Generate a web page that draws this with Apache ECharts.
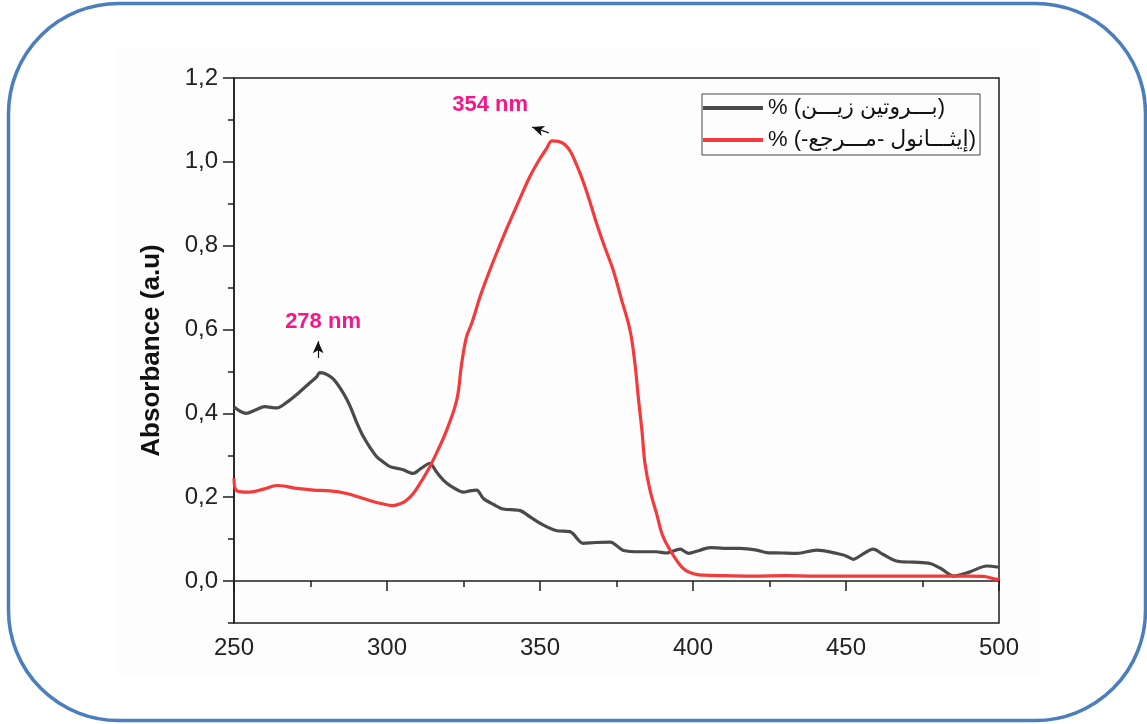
<!DOCTYPE html>
<html>
<head>
<meta charset="utf-8">
<script src="https://cdn.jsdelivr.net/npm/echarts@6/dist/echarts.min.js"></script>
<style>
  html, body { margin: 0; padding: 0; background: #ffffff; }
  #chart { width: 1147px; height: 724px; }
</style>
</head>
<body>
<div id="chart"></div>
<script>
// Zein protein spectrum (wavelength in nm, absorbance in a.u.)
const zeinWl  = [250, 252, 254, 257, 260, 264, 267, 270.5, 274.8, 277, 278, 280, 282, 283.6, 286, 288, 290, 292.3, 294.5, 296.6, 299, 301, 305, 308.6, 311, 314, 316, 318.4, 321, 325, 327, 329.3, 331.5, 335, 338, 343.5, 347, 350, 355.5, 359.8, 364.1, 368, 373, 377.3, 383, 388, 391.3, 395.8, 398.5, 402, 405.6, 410, 415.4, 420.8, 424.1, 429, 433.9, 440.4, 443, 446.9, 450, 452.4, 455, 458.9, 462, 466.5, 472, 477.5, 481, 485.1, 490.5, 496, 500];
const zeinAbs = [0.415, 0.405, 0.400, 0.408, 0.416, 0.413, 0.425, 0.445, 0.473, 0.487, 0.497, 0.494, 0.485, 0.472, 0.445, 0.416, 0.380, 0.344, 0.318, 0.297, 0.283, 0.273, 0.266, 0.257, 0.268, 0.281, 0.262, 0.241, 0.226, 0.212, 0.215, 0.217, 0.197, 0.182, 0.172, 0.168, 0.152, 0.138, 0.120, 0.118, 0.090, 0.092, 0.093, 0.073, 0.070, 0.070, 0.067, 0.076, 0.066, 0.073, 0.080, 0.078, 0.078, 0.074, 0.068, 0.067, 0.066, 0.074, 0.072, 0.066, 0.060, 0.052, 0.062, 0.076, 0.064, 0.048, 0.045, 0.042, 0.030, 0.012, 0.022, 0.036, 0.033];

// Ethanol reference spectrum
const ethWl  = [250, 251, 255, 260, 264, 267, 270.5, 276, 281.4, 286.8, 291, 294.4, 298, 302, 304.5, 306.4, 308.6, 310.8, 314, 317, 319.5, 322.8, 324.4, 326, 327.7, 330.4, 333, 335.8, 338.5, 341.3, 344, 346.7, 349.5, 352, 354, 356, 358, 360, 362, 364.1, 366.3, 368.5, 371, 373.9, 376.5, 379.4, 381, 382.1, 383.3, 384.3, 386, 388.1, 390, 392.5, 395.8, 398, 401, 403.4, 410, 420, 430, 440, 450, 460, 470, 480, 490, 495, 498, 500];
const ethAbs = [0.245, 0.215, 0.212, 0.220, 0.228, 0.226, 0.221, 0.217, 0.215, 0.209, 0.200, 0.192, 0.185, 0.180, 0.185, 0.193, 0.209, 0.233, 0.273, 0.318, 0.360, 0.432, 0.519, 0.583, 0.615, 0.678, 0.730, 0.782, 0.830, 0.877, 0.922, 0.965, 1.002, 1.030, 1.050, 1.049, 1.042, 1.024, 0.992, 0.953, 0.905, 0.853, 0.800, 0.742, 0.675, 0.599, 0.520, 0.440, 0.360, 0.281, 0.215, 0.161, 0.110, 0.074, 0.038, 0.024, 0.016, 0.014, 0.013, 0.012, 0.013, 0.012, 0.012, 0.012, 0.012, 0.012, 0.012, 0.011, 0.006, 0.004];

const seriesNames = ['% (بـــروتين زيـــن)', '% (-إيثـــانول -مـــرجع)'];

// Peak annotations: wavelength, label anchor, arrow tail, arrow head
const peakWl     = [278, 354];
const labelPos   = [[279.1, 0.618], [333.7, 1.136]];
const arrowTail  = [[277.5, 0.532], [352.9, 1.069]];
const arrowHead  = [[277.5, 0.572], [347.4, 1.083]];

// Axis ticks
const xTicks = [250, 300, 350, 400, 450, 500];
const yMajor = [0, 0.2, 0.4, 0.6, 0.8, 1.0, 1.2];
const yMinor = [-0.1, 0.1, 0.3, 0.5, 0.7, 0.9, 1.1];

const zip = (a, b) => a.map((v, i) => [v, b[i]]);

const FONT = '"Liberation Sans", Arial, "DejaVu Sans", sans-serif';
const AXIS_COLOR = '#1e1e1e';
const PEAK_COLOR = '#f5168a';

const chart = echarts.init(document.getElementById('chart'), null, { renderer: 'canvas' });

const peakLabel = i => ({
  symbol: 'circle',
  symbolSize: 0,
  silent: true,
  data: [{ coord: labelPos[i], value: peakWl[i] + ' nm' }],
  label: {
    show: true, formatter: p => p.value, position: 'inside',
    fontFamily: FONT, fontSize: 22, fontWeight: 'bold', color: PEAK_COLOR
  }
});
const peakArrow = i => ({
  silent: true,
  symbol: ['none', 'arrow'],
  symbolSize: [8, 12],
  label: { show: false },
  lineStyle: { color: '#111', width: 1.2, type: 'solid' },
  data: [[{ coord: arrowTail[i] }, { coord: arrowHead[i] }]]
});

chart.setOption({
  backgroundColor: '#ffffff',
  animation: false,
  graphic: [
    {
      type: 'rect',
      z: -10,
      silent: true,
      shape: { x: 117, y: 49, width: 923, height: 626 },
      style: { fill: '#fdfdfd' }
    },
    {
      type: 'rect',
      z: 100,
      silent: true,
      shape: { x: 8.5, y: 3.5, width: 1137, height: 717, r: 110 },
      style: { fill: 'none', stroke: '#4a7ebd', lineWidth: 3.5 }
    }
  ],
  grid: {
    left: 234, right: 148, top: 78, bottom: 101,
    show: true, borderColor: AXIS_COLOR, borderWidth: 1.5, backgroundColor: 'transparent'
  },
  legend: {
    orient: 'vertical',
    left: 702,
    top: 94,
    icon: 'rect',
    itemWidth: 60,
    itemHeight: 4,
    itemGap: 8,
    padding: [2, 4, 3, 1],
    borderColor: '#444',
    borderWidth: 1,
    textStyle: { fontFamily: FONT, fontSize: 22, color: '#111', lineHeight: 24 },
    data: seriesNames
  },
  xAxis: [{
    type: 'value',
    min: 250, max: 500, interval: 50,
    axisLine: { show: true, lineStyle: { color: AXIS_COLOR, width: 1.5 } },
    axisTick: { show: true, length: 10, lineStyle: { color: AXIS_COLOR, width: 1.5 } },
    minorTick: { show: true, splitNumber: 2, length: 6, lineStyle: { color: AXIS_COLOR, width: 1.5 } },
    splitLine: { show: false },
    axisLabel: {
      fontFamily: FONT, fontSize: 24, color: '#222', margin: 13,
      customValues: xTicks, formatter: v => String(v)
    }
  }],
  yAxis: [{
    type: 'value',
    min: -0.1, max: 1.2,
    name: 'Absorbance (a.u)',
    nameLocation: 'middle',
    nameGap: 69,
    nameTextStyle: { fontFamily: FONT, fontSize: 26, fontWeight: 'bold', color: '#111' },
    axisLine: { show: true, lineStyle: { color: AXIS_COLOR, width: 1.5 } },
    axisTick: { show: true, length: 11, customValues: yMajor, lineStyle: { color: AXIS_COLOR, width: 1.5 } },
    splitLine: { show: false },
    axisLabel: {
      fontFamily: FONT, fontSize: 24, color: '#222', margin: 16,
      customValues: yMajor,
      formatter: v => v.toFixed(1).replace('.', ',')
    }
  }, {
    // short ticks between the labelled ones
    type: 'value',
    position: 'left',
    min: -0.1, max: 1.2,
    axisLine: { show: false },
    axisTick: { show: true, length: 6, customValues: yMinor, lineStyle: { color: AXIS_COLOR, width: 1.5 } },
    axisLabel: { show: false },
    splitLine: { show: false }
  }],
  series: [
    {
      name: seriesNames[0],
      type: 'line',
      data: zip(zeinWl, zeinAbs),
      symbol: 'none',
      smooth: 0.3,
      color: '#4a4a4a',
      lineStyle: { color: '#4a4a4a', width: 3.2 },
      z: 3,
      markPoint: peakLabel(0),
      markLine: peakArrow(0)
    },
    {
      name: seriesNames[1],
      type: 'line',
      data: zip(ethWl, ethAbs),
      symbol: 'none',
      smooth: 0.4,
      color: '#f43a3a',
      lineStyle: { color: '#f43a3a', width: 3.2 },
      z: 4,
      markPoint: peakLabel(1),
      markLine: peakArrow(1)
    }
  ]
});
</script>
</body>
</html>
